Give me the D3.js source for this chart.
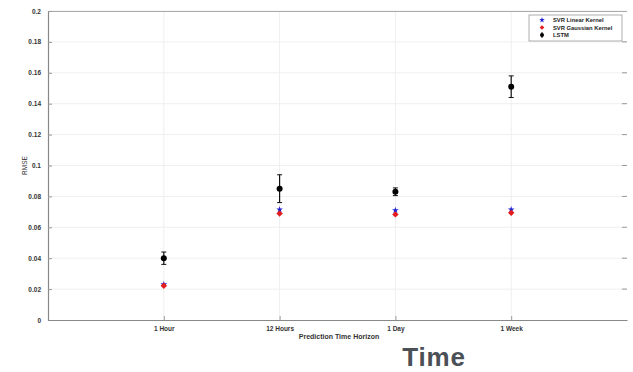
<!DOCTYPE html>
<html>
<head>
<meta charset="utf-8">
<script src="https://cdn.jsdelivr.net/npm/d3@7"></script>
<style>
  body { margin: 0; background: #fff; }
  text { font-family: "Liberation Sans", Arial, sans-serif; }
</style>
</head>
<body>
<script>
// data
var horizons = ["1 Hour", "12 Hours", "1 Day", "1 Week"];
var svrLinear = [0.023, 0.0715, 0.071, 0.0715];
var svrGaussian = [0.0228, 0.0695, 0.069, 0.070];
var lstmMean = [0.040, 0.085, 0.083, 0.151];
var lstmErr = [0.004, 0.009, 0.0025, 0.007];
var yTicks = [0, 0.02, 0.04, 0.06, 0.08, 0.1, 0.12, 0.14, 0.16, 0.18, 0.2];
var legendLabels = ["SVR Linear Kernel", "SVR Gaussian Kernel", "LSTM"];

var width = 633, height = 372,
	plotLeft = 48, plotRight = 627, plotTop = 11, plotBottom = 320;

var svg = d3.select("body").append("svg")
	.attr("width", width)
	.attr("height", height);

var x = d3.scaleLinear().domain([0, horizons.length + 1]).range([plotLeft, plotRight]);
var y = d3.scaleLinear().domain([0, 0.2]).range([plotBottom, plotTop]);

// grid
svg.append("g").selectAll("line")
	.data(yTicks.slice(1))
	.enter().append("line")
	.attr("x1", plotLeft).attr("x2", plotRight)
	.attr("y1", function (d) { return y(d); })
	.attr("y2", function (d) { return y(d); })
	.style("stroke", "#efefef").style("stroke-width", 1);

svg.append("g").selectAll("line")
	.data(horizons)
	.enter().append("line")
	.attr("x1", function (d, i) { return x(i + 1); })
	.attr("x2", function (d, i) { return x(i + 1); })
	.attr("y1", plotTop).attr("y2", plotBottom)
	.style("stroke", "#efefef").style("stroke-width", 1);

// box
svg.append("line").attr("x1", plotLeft).attr("x2", plotRight).attr("y1", plotTop + 0.5).attr("y2", plotTop + 0.5)
	.style("stroke", "#aaa");

// y axis
var yAxis = svg.append("g")
	.attr("transform", "translate(" + plotLeft + ",0)")
	.call(d3.axisLeft(y).tickValues(yTicks).tickSizeInner(-4).tickSizeOuter(0).tickPadding(7)
		.tickFormat(function (d) { return d === 0 ? "0" : String(+d.toFixed(2)); }));

// x axis
var xAxis = svg.append("g")
	.attr("transform", "translate(0," + plotBottom + ")")
	.call(d3.axisBottom(x).tickValues([1, 2, 3, 4]).tickSizeInner(-4).tickSizeOuter(0).tickPadding(6)
		.tickFormat(function (d) { return horizons[d - 1]; }));

[yAxis, xAxis].forEach(function (ax) {
	ax.select(".domain").style("stroke", "#888").style("stroke-width", 1.2);
	ax.selectAll(".tick line").style("stroke", "#999");
	ax.selectAll("text")
		.style("font-size", "6.5px")
		.style("font-weight", "bold")
		.attr("fill", "#333");
});

// right side ticks
svg.append("g").selectAll("line")
	.data(yTicks.slice(1, -1))
	.enter().append("line")
	.attr("x1", plotRight - 5).attr("x2", plotRight)
	.attr("y1", function (d) { return y(d); })
	.attr("y2", function (d) { return y(d); })
	.style("stroke", "#999");

// axis labels
svg.append("text")
	.text("RMSE")
	.attr("transform", "translate(27," + y(0.1) + ") rotate(-90)")
	.attr("text-anchor", "middle")
	.style("font-size", "6.5px")
	.attr("fill", "#333");

svg.append("text")
	.text("Prediction Time Horizon")
	.attr("x", 339).attr("y", 339)
	.attr("text-anchor", "middle")
	.style("font-size", "7px")
	.style("font-weight", "bold")
	.attr("fill", "#333");

svg.append("text")
	.text("Time")
	.attr("x", 434).attr("y", 366)
	.attr("text-anchor", "middle")
	.style("font-size", "26px")
	.style("font-weight", "bold")
	.style("letter-spacing", "0.8px")
	.attr("fill", "#4b5056");

// markers
var star = d3.symbol().type(d3.symbolStar).size(14);
var diamond = d3.symbol().type(d3.symbolDiamond2).size(26);

svg.append("g").selectAll("path")
	.data(svrLinear)
	.enter().append("path")
	.attr("d", star)
	.attr("transform", function (d, i) { return "translate(" + x(i + 1) + "," + y(d) + ")"; })
	.attr("fill", "#2020d0");

svg.append("g").selectAll("path")
	.data(svrGaussian)
	.enter().append("path")
	.attr("d", diamond)
	.attr("transform", function (d, i) { return "translate(" + x(i + 1) + "," + (y(d) + 1) + ")"; })
	.attr("fill", "#e41a1c");

var lstm = svg.append("g").selectAll("g")
	.data(lstmMean)
	.enter().append("g")
	.attr("transform", function (d, i) { return "translate(" + x(i + 1) + ",0)"; });

lstm.append("line")
	.attr("y1", function (d, i) { return y(d + lstmErr[i]); })
	.attr("y2", function (d, i) { return y(d - lstmErr[i]); })
	.style("stroke", "#111").style("stroke-width", 1.2);

lstm.append("line")
	.attr("x1", -2.5).attr("x2", 2.5)
	.attr("y1", function (d, i) { return y(d + lstmErr[i]); })
	.attr("y2", function (d, i) { return y(d + lstmErr[i]); })
	.style("stroke", "#111");

lstm.append("line")
	.attr("x1", -2.5).attr("x2", 2.5)
	.attr("y1", function (d, i) { return y(d - lstmErr[i]); })
	.attr("y2", function (d, i) { return y(d - lstmErr[i]); })
	.style("stroke", "#111");

lstm.append("circle")
	.attr("cy", function (d) { return y(d); })
	.attr("r", 3)
	.attr("fill", "#000");

// legend
var legend = svg.append("g").attr("transform", "translate(529,15)");
legend.append("rect")
	.attr("width", 93).attr("height", 26)
	.attr("fill", "#fff")
	.style("stroke", "#999").style("stroke-width", 0.8);

var item = legend.selectAll("g")
	.data(legendLabels)
	.enter().append("g")
	.attr("transform", function (d, i) { return "translate(13," + (5 + i * 7.5) + ")"; });

item.append("text")
	.text(function (d) { return d; })
	.attr("x", 11).attr("y", 2)
	.style("font-size", "5.8px")
	.style("font-weight", "bold")
	.attr("fill", "#222");

item.each(function (d, i) {
	var g = d3.select(this);
	if (i === 0) {
		g.append("path").attr("d", d3.symbol().type(d3.symbolStar).size(10)).attr("fill", "#2020d0");
	} else if (i === 1) {
		g.append("path").attr("d", d3.symbol().type(d3.symbolDiamond2).size(14)).attr("fill", "#e41a1c");
	} else {
		g.append("line").attr("y1", -3).attr("y2", 3).style("stroke", "#111");
		g.append("circle").attr("r", 2).attr("fill", "#000");
	}
});
</script>
</body>
</html>
